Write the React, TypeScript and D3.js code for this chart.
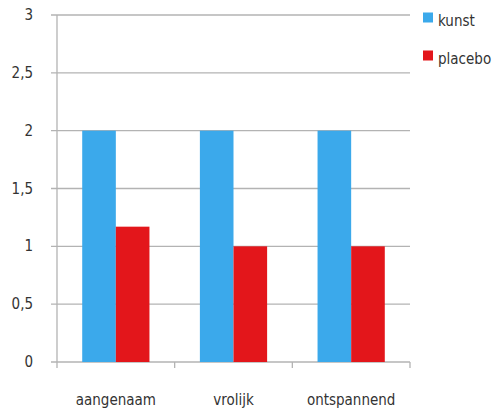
import React from "react";
import * as d3 from "d3";

const categories = ["aangenaam", "vrolijk", "ontspannend"];
const seriesNames = ["kunst", "placebo"];
const kunst = [2, 2, 2];
const placebo = [1.17, 1, 1];
const yTicks = [0, 0.5, 1, 1.5, 2, 2.5, 3];
const colors = ["#3BA9EB", "#E3161B"];

const W = 503, H = 414;
const left = 57, right = 410, top = 15, bottom = 362;
const font = "'Liberation Sans Narrow', 'DejaVu Sans Condensed', sans-serif";

export default function App() {
  const x = d3.scaleBand<string>().domain(categories).range([left, right]).paddingInner(0).paddingOuter(0);
  const y = d3.scaleLinear().domain([0, 3]).range([bottom, top]);
  const inner = d3.scaleBand<string>().domain(seriesNames).range([0, x.bandwidth()]).paddingOuter(0.75).paddingInner(0);
  const values = [kunst, placebo];
  return (
    <svg width={W} height={H} style={{ position: "absolute", left: 0, top: 0, background: "#fff" }}>
      {yTicks.map((t) => (
        <g key={t}>
          <line x1={left - 6} x2={right} y1={y(t)} y2={y(t)} stroke="#b3b3b3" strokeWidth={1.3} />
          <text x={33} y={y(t) + 5} textAnchor="end" fontFamily={font} fontSize={15} fill="#333">
            {String(t).replace(".", ",")}
          </text>
        </g>
      ))}
      <line x1={left} x2={left} y1={top} y2={bottom} stroke="#b3b3b3" strokeWidth={1.3} />
      {[left, ...categories.map((c) => (x(c) as number) + x.bandwidth())].map((v, i) => (
        <line key={i} x1={v} x2={v} y1={bottom} y2={bottom + 6} stroke="#b3b3b3" strokeWidth={1.3} />
      ))}
      {seriesNames.map((s, si) =>
        categories.map((c, ci) => {
          const bx = (x(c) as number) + (inner(s) as number);
          const by = y(values[si][ci]);
          return (
            <rect key={s + c} x={bx} y={by} width={inner.bandwidth()} height={bottom - by} fill={colors[si]} />
          );
        })
      )}
      {categories.map((c) => (
        <text key={c} x={(x(c) as number) + x.bandwidth() / 2} y={405} textAnchor="middle" fontFamily={font} fontSize={15} fill="#333">
          {c}
        </text>
      ))}
      {seriesNames.map((s, i) => (
        <g key={s}>
          <rect x={423} y={12.5 + i * 38} width={10} height={10} fill={colors[i]} />
          <text x={438} y={26 + i * 38} fontFamily={font} fontSize={15} fill="#333">{s}</text>
        </g>
      ))}
    </svg>
  );
}
